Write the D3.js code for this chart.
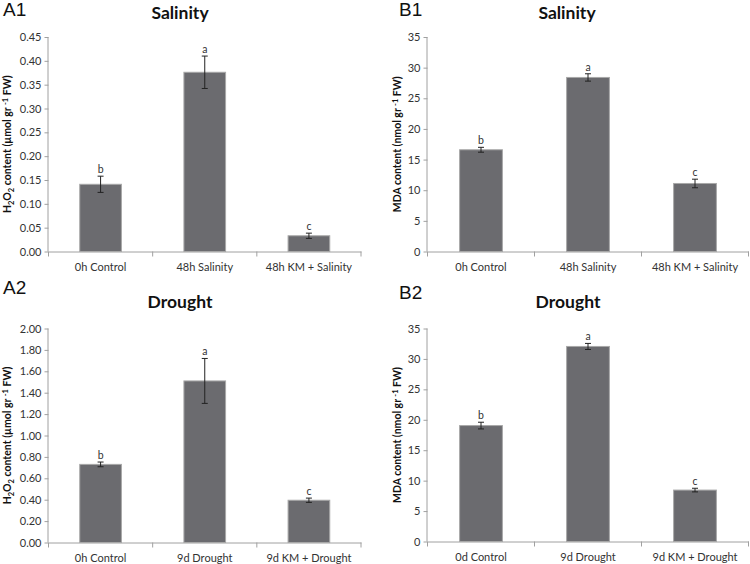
<!DOCTYPE html>
<html><head><meta charset="utf-8">
<script src="https://cdn.jsdelivr.net/npm/d3@7"></script>
<style>
body{margin:0;background:#fff;}
svg{display:block;}
</style></head>
<body>
<svg id="chart" width="750" height="564"></svg>
<script>
// ---- data ----
const categoriesSalinity = ["0h Control", "48h Salinity", "48h KM + Salinity"];
const categoriesDroughtA = ["0h Control", "9d Drought", "9d KM + Drought"];
const categoriesDroughtB = ["0d Control", "9d Drought", "9d KM + Drought"];

const h2o2Salinity = [0.141, 0.376, 0.033];
const h2o2SalinityErr = [0.017, 0.034, 0.0055];
const mdaSalinity = [16.6, 28.4, 11.1];
const mdaSalinityErr = [0.4, 0.6, 0.7];
const h2o2Drought = [0.73, 1.51, 0.395];
const h2o2DroughtErr = [0.022, 0.21, 0.02];
const mdaDrought = [19.05, 32.05, 8.45];
const mdaDroughtErr = [0.55, 0.5, 0.3];
const letters = ["b", "a", "c"];

const h2o2Ticks = [0, 0.05, 0.10, 0.15, 0.20, 0.25, 0.30, 0.35, 0.40, 0.45];
const mdaTicks = [0, 5, 10, 15, 20, 25, 30, 35];
const h2o2DroughtTicks = [0, 0.2, 0.4, 0.6, 0.8, 1.0, 1.2, 1.4, 1.6, 1.8, 2.0];

const svg = d3.select("#chart");
const FONT = "Lato, 'Open Sans', sans-serif";

function panel(o) {
  const g = svg.append("g");
  const x = d3.scaleBand().domain(o.cats).range([o.x0, o.x1]).padding(0);
  const y = d3.scaleLinear().domain([0, o.max]).range([o.y1, o.y0]);
  const barW = x.bandwidth() * 0.4;

  // panel letter
  g.append("text").attr("x", o.lx).attr("y", o.ly).text(o.letter)
    .attr("font-family", "'Liberation Sans', Arial, sans-serif").attr("font-size", 19).attr("fill", "#111");
  // title
  g.append("text").attr("x", o.tx).attr("y", o.ty).attr("text-anchor", "middle").text(o.title)
    .attr("font-family", FONT).attr("font-weight", "bold").attr("font-size", 17.5).attr("fill", "#111");

  // y axis
  const ya = g.append("g").attr("transform", `translate(${o.x0},0)`)
    .call(d3.axisLeft(y).tickValues(o.ticks).tickFormat(o.fmt).tickSize(4).tickPadding(3));
  ya.select(".domain").attr("stroke", "#a0a0a0").attr("d", `M-0.5,${o.y0}V${o.y1}`);
  ya.selectAll(".tick line").attr("stroke", "#a0a0a0");
  ya.selectAll(".tick text").attr("font-family", FONT).attr("font-size", 11).attr("fill", "#333");

  // x axis labels
  const xa = g.append("g").attr("transform", `translate(0,${o.y1})`)
    .call(d3.axisBottom(x).tickSize(0).tickPadding(12));
  xa.select(".domain").attr("stroke", "#a0a0a0");
  xa.selectAll(".tick text").attr("font-family", FONT).attr("font-size", 11).attr("fill", "#333");
  // boundary tick marks
  const bounds = o.cats.map(c => x(c)).concat([x.range()[1]]);
  g.selectAll(".bt").data(bounds).enter().append("line")
    .attr("x1", d => d).attr("x2", d => d).attr("y1", o.y1).attr("y2", o.y1 + 5)
    .attr("stroke", "#a0a0a0");

  // bars
  const data = o.cats.map((c, i) => ({c, v: o.vals[i], e: o.errs[i], l: letters[i]}));
  g.selectAll(".bar").data(data).enter().append("rect")
    .attr("x", d => x(d.c) + x.bandwidth() / 2 - barW / 2)
    .attr("width", barW)
    .attr("y", d => y(d.v))
    .attr("height", d => y(0) - y(d.v))
    .attr("fill", "#6b6b6f").attr("stroke", "#a8a8a8").attr("stroke-width", 1);

  // error bars
  const eg = g.selectAll(".err").data(data).enter().append("g")
    .attr("stroke", "#222").attr("stroke-width", 1);
  eg.append("line").attr("x1", d => x(d.c) + x.bandwidth() / 2).attr("x2", d => x(d.c) + x.bandwidth() / 2)
    .attr("y1", d => y(d.v + d.e)).attr("y2", d => y(d.v - d.e));
  eg.append("line").attr("x1", d => x(d.c) + x.bandwidth() / 2 - 3).attr("x2", d => x(d.c) + x.bandwidth() / 2 + 3)
    .attr("y1", d => y(d.v + d.e)).attr("y2", d => y(d.v + d.e));
  eg.append("line").attr("x1", d => x(d.c) + x.bandwidth() / 2 - 3).attr("x2", d => x(d.c) + x.bandwidth() / 2 + 3)
    .attr("y1", d => y(d.v - d.e)).attr("y2", d => y(d.v - d.e));

  // significance letters
  g.selectAll(".lt").data(data).enter().append("text")
    .attr("x", d => x(d.c) + x.bandwidth() / 2)
    .attr("y", d => y(d.v + d.e) - 3)
    .attr("text-anchor", "middle").text(d => d.l)
    .attr("font-family", FONT).attr("font-size", 10.5).attr("fill", "#333");

  // y label
  const cy = (o.y0 + o.y1) / 2;
  const t = g.append("text").attr("transform", `translate(${o.ylx},${cy}) rotate(-90)`)
    .attr("text-anchor", "middle").attr("font-family", FONT).attr("font-weight", "bold")
    .attr("font-size", 10.5).attr("fill", "#111");
  o.ylab.forEach(p => {
    const ts = t.append("tspan").text(p.t);
    if (p.s === "sub") ts.attr("font-size", 7.5).attr("dy", 2.5);
    else if (p.s === "sup") ts.attr("font-size", 7.5).attr("dy", -3.5);
    else if (p.s === "back") ts.attr("dy", -2.5);
    else if (p.s === "back2") ts.attr("dy", 3.5);
  });
}

const h2o2Label = [{t: "H"}, {t: "2", s: "sub"}, {t: "O", s: "back"}, {t: "2", s: "sub"},
  {t: " content (µmol gr ", s: "back"}, {t: "-1", s: "sup"}, {t: " FW)", s: "back2"}];
const mdaLabel = [{t: "MDA content (nmol gr "}, {t: "-1", s: "sup"}, {t: " FW)", s: "back2"}];

panel({cats: categoriesSalinity, vals: h2o2Salinity, errs: h2o2SalinityErr, max: 0.45, ticks: h2o2Ticks,
  fmt: d3.format(".2f"), x0: 48.5, x1: 361, y0: 37, y1: 251.5, letter: "A1", lx: 3, ly: 16,
  title: "Salinity", tx: 180, ty: 18.5, ylab: h2o2Label, ylx: 11});
panel({cats: categoriesSalinity, vals: mdaSalinity, errs: mdaSalinityErr, max: 35, ticks: mdaTicks,
  fmt: d3.format("d"), x0: 427.5, x1: 748.5, y0: 37, y1: 251.5, letter: "B1", lx: 399, ly: 16,
  title: "Salinity", tx: 567, ty: 18.5, ylab: mdaLabel, ylx: 401});
panel({cats: categoriesDroughtA, vals: h2o2Drought, errs: h2o2DroughtErr, max: 2, ticks: h2o2DroughtTicks,
  fmt: d3.format(".2f"), x0: 48.5, x1: 361, y0: 328.5, y1: 542.5, letter: "A2", lx: 3, ly: 293.5,
  title: "Drought", tx: 180, ty: 307.5, ylab: h2o2Label, ylx: 11});
panel({cats: categoriesDroughtB, vals: mdaDrought, errs: mdaDroughtErr, max: 35, ticks: mdaTicks,
  fmt: d3.format("d"), x0: 427.5, x1: 748.5, y0: 328.5, y1: 541.5, letter: "B2", lx: 399, ly: 299,
  title: "Drought", tx: 568, ty: 307.5, ylab: mdaLabel, ylx: 401});
</script>
</body></html>
